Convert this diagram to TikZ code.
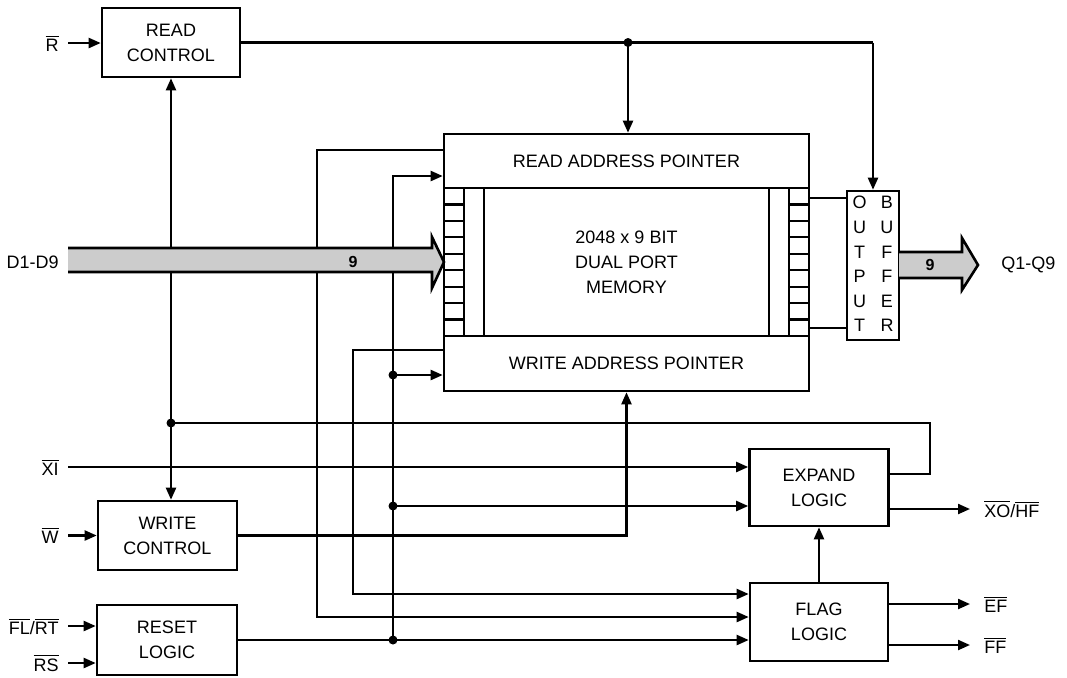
\documentclass[tikz,border=0pt]{standalone}
\usepackage{fontspec}
\setmainfont{Liberation Sans}
\usepackage{tikz}
\usetikzlibrary{arrows.meta}
\tikzset{every edge/.style={draw,
		-{Triangle[length=6pt,width=5pt]},line width=1.1pt}}
\tikzstyle{logicBox}=[rectangle,draw=black,line width=1.3pt,inner sep=0pt,align=center,font=\fontsize{9}{12.5}\selectfont]
\tikzstyle{pinIn}=[anchor=east,inner xsep=4.5pt,inner ysep=0pt,font=\fontsize{9}{11}\selectfont]
\tikzstyle{pinOut}=[anchor=west,inner xsep=7pt,inner ysep=0pt,font=\fontsize{9}{11}\selectfont]
\tikzstyle{wire}=[line width=1.1pt]
\tikzstyle{sig}=[wire,-{Triangle[length=6pt,width=5pt]}]
\tikzstyle{busArrow}=[line width=1.3pt,line join=miter]
\newcommand{\inv}[1]{$\overline{\mbox{#1}}$}

\begin{document}
\begin{tikzpicture}[x=0.5pt,y=-0.5pt]
	\useasboundingbox (0,0) rectangle (1067,677);
	% blocks
	\node at (171,42.5) [logicBox,minimum width=69pt,minimum height=34.5pt] (rdCtl) {READ\\CONTROL};
	\node at (167.5,535.5) [logicBox,minimum width=69.5pt,minimum height=34.5pt] (wrCtl) {WRITE\\CONTROL};
	\node at (167,640) [logicBox,minimum width=70pt,minimum height=35pt] (rstLg) {RESET\\LOGIC};
	\node at (819,487.5) [logicBox,minimum width=69.5pt,minimum height=38.5pt] (expLg) {EXPAND\\LOGIC};
	\node at (819,622) [logicBox,minimum width=69pt,minimum height=39pt] (flgLg) {FLAG\\LOGIC};
	\node at (626.5,262.5) [logicBox,minimum width=182.5pt,minimum height=128.5pt] (ram) {};
	\node at (626.5,161) [logicBox,minimum width=182.5pt,minimum height=27pt] (rdPtr) {READ ADDRESS POINTER};
	\node at (626.5,363.5) [logicBox,minimum width=182.5pt,minimum height=27.5pt] (wrPtr) {WRITE ADDRESS POINTER};
	\node at (626.5,262) [logicBox,minimum width=142.5pt,minimum height=74pt] (core) {2048 x 9 BIT\\DUAL PORT\\MEMORY};
	\node at (873,265.5) [logicBox,minimum width=26pt,minimum height=74.5pt,font=\fontsize{9}{12.3}\selectfont] (oBuf)
		{\begin{tabular}{@{}c@{\hspace{7pt}}c@{}}O&B\\U&U\\T&F\\P&F\\U&E\\T&R\end{tabular}};
	% memory cells
	\draw[wire] (464,188) -- (464,336);
	\draw[wire] (789,188) -- (789,336);
	\foreach \k in {1,...,8}
		\draw[wire] (444,{188+\k*16.44}) -- (464,{188+\k*16.44}) (789,{188+\k*16.44}) -- (809,{188+\k*16.44});
	% pins
	\node at (68,43) [pinIn] (rIn) {\inv{R}};
	\node at (68,262) [pinIn] (dIn) {D1-D9};
	\node at (68,467) [pinIn] (xiIn) {\inv{XI}};
	\node at (68,535.5) [pinIn] (wIn) {\inv{W}};
	\node at (68,626) [pinIn] (flIn) {\inv{FL}/\inv{RT}};
	\node at (68,663) [pinIn] (rsIn) {\inv{RS}};
	\node at (970,509) [pinOut] (xoOut) {\inv{XO}/\inv{HF}};
	\node at (970,604) [pinOut] (efOut) {\inv{EF}};
	\node at (970,645) [pinOut] (ffOut) {\inv{FF}};
	\node at (987,265) [pinOut] (qOut) {Q1-Q9};
	\draw (rIn) edge (rIn -| rdCtl.west);
	\draw (xiIn) edge (xiIn -| expLg.west);
	\draw (wIn) edge (wrCtl.west);
	\draw (flIn) edge (flIn -| rstLg.west);
	\draw (rsIn) edge (rsIn -| rstLg.west);
	\draw ([yshift=-10.75pt]expLg.east) edge (xoOut.west);
	\draw (efOut.west -| flgLg.east) edge (efOut.west);
	\draw (ffOut.west -| flgLg.east) edge (ffOut.west);
	\draw (flgLg) edge (expLg);
	% read control
	\coordinate (rdTap) at (628,42.5);
	\coordinate (bufTap) at (873,42.5);
	\draw[wire] (rdCtl.east) -- (bufTap);
	\draw (rdTap) edge (rdTap |- rdPtr.north);
	\draw (bufTap) edge (oBuf.north);
	% expand feedback
	\coordinate (xpTap) at (171,423);
	\draw[wire] ([yshift=6.75pt]expLg.east) -| (930,423) -- (xpTap);
	\draw (xpTap) edge (rdCtl.south);
	\draw (xpTap) edge (xpTap |- wrCtl.north);
	% write control
	\draw[sig] (wrCtl.east) -| (wrPtr.south);
	% reset
	\coordinate (rsTap) at (393,640);
	\coordinate (wpTap) at (393,375);
	\coordinate (xTap) at (393,506);
	\draw (rstLg.east) edge (rstLg.east -| flgLg.west);
	\draw[sig] (rsTap) |- (rdPtr.west |- 0,176);
	\draw (wpTap) edge (wpTap -| wrPtr.west);
	\draw (xTap) edge (xTap -| expLg.west);
	% pointers to flag logic
	\draw[sig] ([yshift=5.5pt]rdPtr.west) -| (317,617) -- (flgLg.west |- 0,617);
	\draw[sig] ([yshift=6.75pt]wrPtr.west) -| (353,594) -- (flgLg.west |- 0,594);
	% memory to buffer
	\draw[wire] (ram.east |- 0,198) -- (oBuf.west |- 0,198);
	\draw[wire] (ram.east |- 0,328) -- (oBuf.west |- 0,328);
	\foreach \p in {rdTap,xpTap,rsTap,wpTap,xTap}
		\fill (\p) circle (2.25pt);
	% data buses
	\fill[gray!40] (68,248) -- (432,248) -- (432,237) -- (444,262) -- (432,288) -- (432,272) -- (68,272) -- cycle;
	\draw[busArrow] (68,248) -- (432,248) -- (432,237) -- (444,262) -- (432,288) -- (432,272) -- (68,272);
	\fill[gray!40] (899,252) -- (962,252) -- (962,238) -- (978,265) -- (962,290) -- (962,278) -- (899,278) -- cycle;
	\draw[busArrow] (899,252) -- (962,252) -- (962,238) -- (978,265) -- (962,290) -- (962,278) -- (899,278);
	\node at (353,262) [font=\bfseries\fontsize{8}{8}\selectfont] (dBus) {9};
	\node at (930,265) [font=\bfseries\fontsize{8}{8}\selectfont] (qBus) {9};
\end{tikzpicture}
\end{document}
